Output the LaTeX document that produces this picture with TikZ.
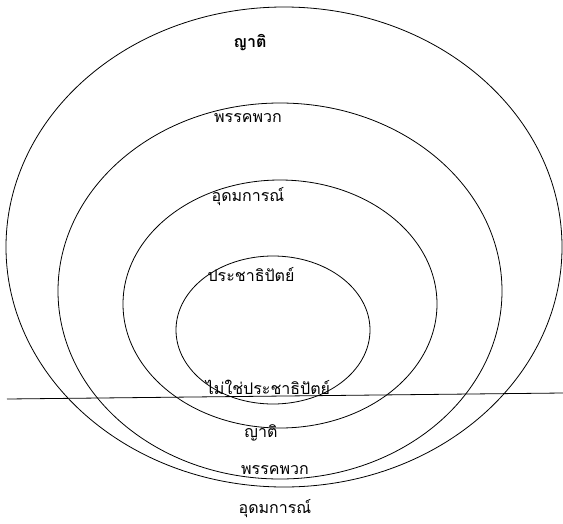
\documentclass[tikz,border=0pt]{standalone}
\usepackage{fontspec}
\newfontfamily\thaifont[Script=Thai]{Loma}
\usetikzlibrary{positioning,calc}

\begin{document}
\begin{tikzpicture}[x=1pt, y=-1pt, line width=0.8pt,
    every node/.style={font=\thaifont\fontsize{16}{18}\selectfont, inner sep=1pt}]
  \useasboundingbox (0,0) rectangle (563,523);
  % circles, outer to inner
  \draw (284,247) ellipse [x radius=278, y radius=240];
  \draw (280,291) ellipse [x radius=222, y radius=188];
  \draw (280,304) ellipse [x radius=157, y radius=124];
  \draw (273,330) ellipse [x radius=97, y radius=74];
  % dividing line
  \coordinate (lineL) at (7,399);
  \coordinate (lineR) at (563,393);
  \draw (lineL) -- (lineR);
  % labels above
  \node (kinT) at (250,43) {\bfseries ญาติ};
  \node (partT) at (248,118) {พรรคพวก};
  \node (ideoT) at (248,197) {อุดมการณ์};
  \node (demo) at (251,275) {ประชาธิปัตย์};
  % labels below
  \node (nondemo) at (268,387) {ไม่ใช่ประชาธิปัตย์};
  \node (kinB) at (261,433) {ญาติ};
  \node (partB) at (275,470) {พรรคพวก};
  \node (ideoB) at (275,509) {อุดมการณ์};
\end{tikzpicture}
\end{document}
